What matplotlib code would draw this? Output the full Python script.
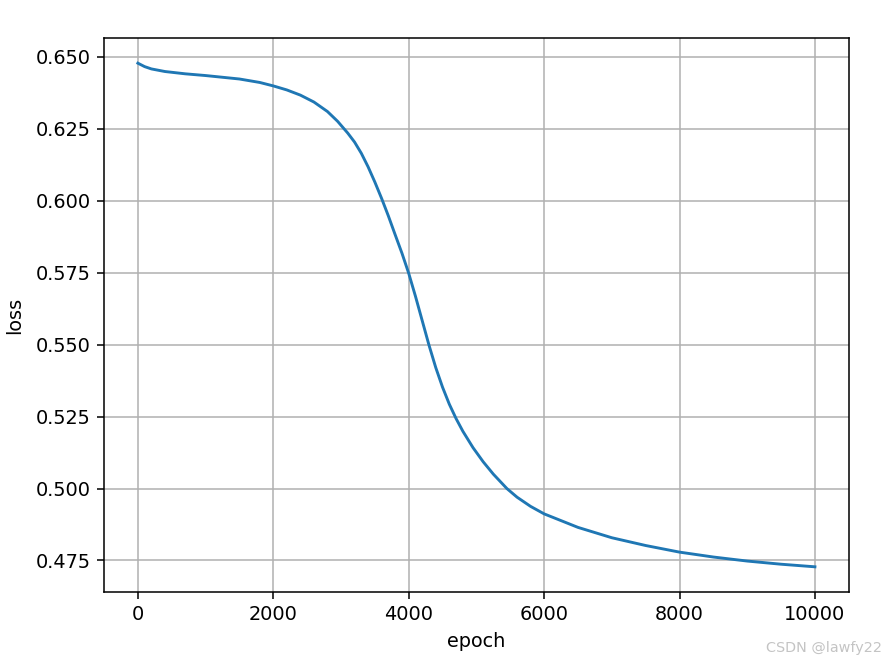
import matplotlib
matplotlib.use("Agg")
import matplotlib.pyplot as plt

# loss values
epochs = [0, 100, 200, 400, 700, 1000, 1500, 1800, 2000, 2200, 2400, 2600,
          2800, 2950, 3100, 3200, 3300, 3400, 3500, 3600, 3700, 3800, 3900,
          4000, 4100, 4200, 4300, 4400, 4500, 4600, 4700, 4800, 4950, 5100,
          5250, 5450, 5600, 5800, 6000, 6500, 7000, 7500, 8000, 8500, 9000,
          9500, 10000]
losses = [0.6478, 0.6466, 0.6458, 0.6449, 0.6441, 0.6435, 0.6423, 0.6411,
          0.6399, 0.6385, 0.6367, 0.6343, 0.6310, 0.6276, 0.6235, 0.6204,
          0.6165, 0.6118, 0.6065, 0.6008, 0.5947, 0.5882, 0.5818, 0.5748,
          0.5668, 0.5583, 0.5498, 0.5420, 0.5352, 0.5293, 0.5243, 0.5199,
          0.5142, 0.5093, 0.5050, 0.5000, 0.4970, 0.4938, 0.4912, 0.4865,
          0.4829, 0.4802, 0.4779, 0.4762, 0.4748, 0.4737, 0.4728]

dpi = 138.5
fig = plt.figure(figsize=(886 / dpi, 663 / dpi), dpi=dpi)
ax = fig.add_axes([0.1174, 0.1071, 0.958 - 0.1174, 0.9427 - 0.1071])

ax.plot(epochs, losses, color="#1f77b4")
ax.set_xlabel("epoch")
ax.set_ylabel("loss", labelpad=6)
ax.grid(True)

# watermark in the corner
fig.text(0.995, 0.012, "CSDN @lawfy22", ha="right", va="bottom",
         fontsize=7.5, color="#c4c4c4")

fig.savefig("out.png", dpi=dpi)
